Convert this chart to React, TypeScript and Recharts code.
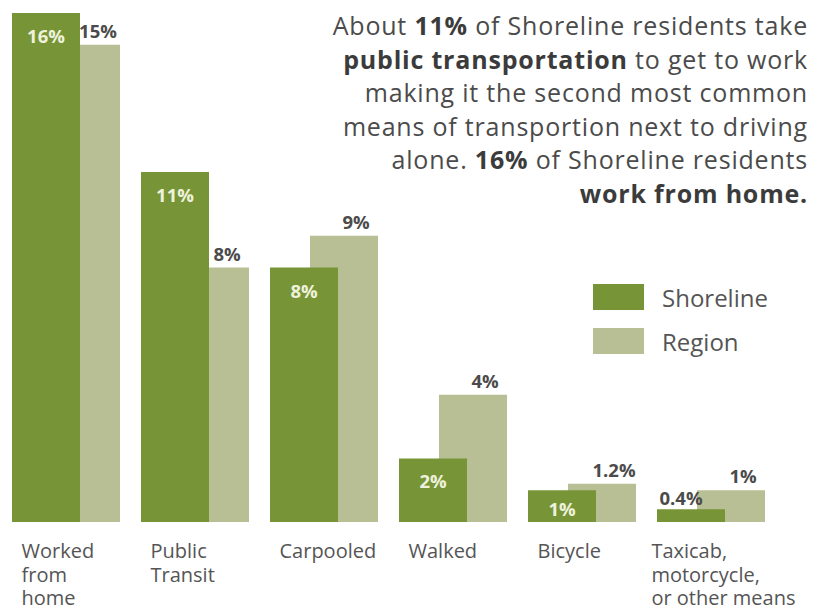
import { BarChart, Bar, XAxis, YAxis, LabelList, Legend } from "recharts";

const FONT = "'Open Sans', 'Noto Sans', sans-serif";
const SHORELINE_COLOR = "#779536";
const REGION_COLOR = "#b8bf94";
const TEXT_COLOR = "#4b4b4b";

const categories = [
  "Worked\nfrom\nhome",
  "Public\nTransit",
  "Carpooled",
  "Walked",
  "Bicycle",
  "Taxicab,\nmotorcycle,\nor other means",
];
const shoreline = [16, 11, 8, 2, 1, 0.4];
const region = [15, 8, 9, 4, 1.2, 1];

const data = categories.map((cat, i) => ({
  cat,
  shoreline: shoreline[i],
  region: region[i],
}));

// right limit for tick text, in svg coordinates
const TICK_RIGHT = 809;

// eslint-disable-next-line @typescript-eslint/no-explicit-any
function CategoryTick({ x, y, payload }: any) {
  const lines = String(payload.value).split("\n");
  const longest = Math.max(...lines.map((l) => l.length));
  const left = Math.min(x - 24, TICK_RIGHT - longest * 9.9);
  return (
    <text x={left} y={y} textAnchor="start" fill="#555" fontSize={20} fontFamily={FONT}>
      {lines.map((line, i) => (
        <tspan key={i} x={left} dy={i === 0 ? 6 : 23.5}>
          {line}
        </tspan>
      ))}
    </text>
  );
}

// eslint-disable-next-line @typescript-eslint/no-explicit-any
function ShorelineLabel({ x, y, width, height, value }: any) {
  const tall = height >= 22;
  return (
    <text
      x={tall ? x + width / 2 : x + width / 2 - 10}
      y={tall ? y + Math.min(30, height - 6) : y - 4}
      textAnchor="middle"
      fill={tall ? "#eef2dc" : TEXT_COLOR}
      fontSize={18.5}
      fontWeight={700}
      fontFamily={FONT}
    >
      {value}%
    </text>
  );
}

// eslint-disable-next-line @typescript-eslint/no-explicit-any
function RegionLabel({ x, y, value }: any) {
  return (
    <text
      x={x + 46}
      y={y - 7}
      textAnchor="middle"
      fill={TEXT_COLOR}
      fontSize={18.5}
      fontWeight={700}
      fontFamily={FONT}
    >
      {value}%
    </text>
  );
}

// eslint-disable-next-line @typescript-eslint/no-explicit-any
function LegendContent({ payload }: any) {
  const items = [...(payload ?? [])].sort((a, b) =>
    a.dataKey === "shoreline" ? -1 : b.dataKey === "shoreline" ? 1 : 0
  );
  return (
    <div style={{ fontFamily: FONT }}>
      {items.map((item) => (
        <div key={item.value} style={{ display: "flex", alignItems: "center", height: 44 }}>
          <div style={{ width: 51, height: 26, background: item.color, marginRight: 18 }} />
          <span style={{ fontSize: 24, color: "#555" }}>{item.value}</span>
        </div>
      ))}
    </div>
  );
}

export default function App() {
  return (
    <div
      style={{
        position: "absolute",
        left: 0,
        top: 0,
        width: 813,
        height: 609,
        background: "#fff",
        overflow: "hidden",
        fontFamily: FONT,
      }}
    >
      <div style={{ position: "absolute", left: -19, top: 0 }}>
        <BarChart
          width={832}
          height={609}
          data={data}
          margin={{ top: 13, right: 18, bottom: 0, left: 0 }}
        >
          <XAxis
            xAxisId="s"
            dataKey="cat"
            padding={{ left: 0, right: 40 }}
            axisLine={false}
            tickLine={false}
            tickSize={0}
            tickMargin={0}
            interval={0}
            height={87}
            tick={<CategoryTick />}
          />
          <XAxis xAxisId="r" dataKey="cat" padding={{ left: 40, right: 0 }} hide />
          <YAxis domain={[0, 16]} hide />
          <Legend
            layout="vertical"
            align="center"
            verticalAlign="middle"
            wrapperStyle={{ left: 612, top: 275, width: 200 }}
            content={<LegendContent />}
          />
          <Bar
            xAxisId="r"
            dataKey="region"
            name="Region"
            fill={REGION_COLOR}
            barSize={68}
            isAnimationActive={false}
          >
            <LabelList dataKey="region" content={<RegionLabel />} />
          </Bar>
          <Bar
            xAxisId="s"
            dataKey="shoreline"
            name="Shoreline"
            fill={SHORELINE_COLOR}
            barSize={68}
            isAnimationActive={false}
          >
            <LabelList dataKey="shoreline" content={<ShorelineLabel />} />
          </Bar>
        </BarChart>
      </div>
      <div
        style={{
          position: "absolute",
          right: 5,
          top: 9,
          textAlign: "right",
          fontSize: 25,
          letterSpacing: 0.8,
          lineHeight: "33.5px",
          color: TEXT_COLOR,
          whiteSpace: "nowrap",
        }}
      >
        About <b style={{ color: "#3b3b3b" }}>11%</b> of Shoreline residents take
        <br />
        <b style={{ color: "#3b3b3b" }}>public transportation</b> to get to work
        <br />
        making it the second most common
        <br />
        means of transportion next to driving
        <br />
        alone. <b style={{ color: "#3b3b3b" }}>16%</b> of Shoreline residents
        <br />
        <b style={{ color: "#3b3b3b" }}>work from home.</b>
      </div>
    </div>
  );
}
